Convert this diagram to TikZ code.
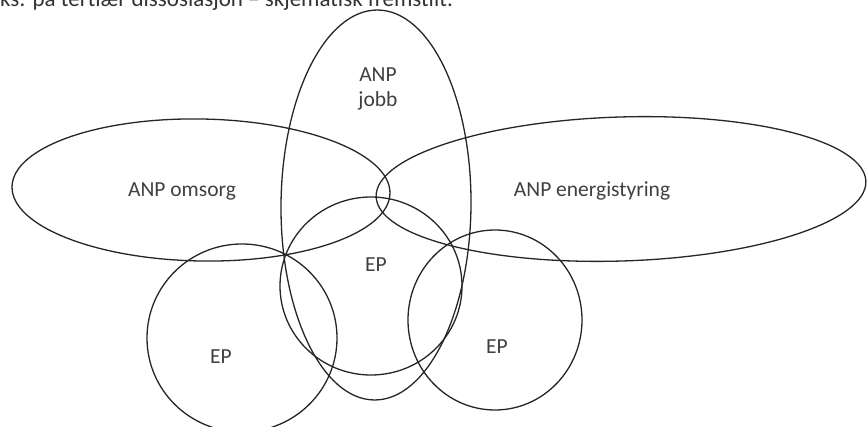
\documentclass[tikz,border=0pt]{standalone}
\usepackage{fontspec}
\setmainfont{Carlito}
\begin{document}
\begin{tikzpicture}[x=1pt,y=-1pt,
  shp/.style={draw=black!85,line width=1.3pt},
  lbl/.style={font=\fontsize{21.5}{24}\selectfont,text=black!75,inner sep=0pt,anchor=base}]
\useasboundingbox (0,0) rectangle (867,427);
\clip (0,0) rectangle (867,427);
\fill[white] (0,0) rectangle (867,427);
\node[anchor=base west,inner sep=0pt,text=black!80,font=\fontsize{23}{26}\selectfont] (title) at (0,6.5) {ks: på tertiær dissosiasjon – skjematisk fremstilt.};
% ellipses
\draw[shp] (376,205) ellipse [x radius=95, y radius=195, rotate=-0.5];
\draw[shp] (201,190) ellipse [x radius=189, y radius=71, rotate=-1];
\draw[shp] (621,189) ellipse [x radius=245, y radius=72, rotate=1.8];
% circles
\draw[shp] (371,286) ellipse [x radius=91, y radius=89];
\draw[shp] (242,338) ellipse [x radius=95, y radius=94];
\draw[shp] (495,320) ellipse [x radius=87, y radius=90];
% labels
\node[lbl] (jobb1) at (378,82) {ANP};
\node[lbl] (jobb2) at (378,107) {jobb};
\node[lbl] (omsorg) at (182,197) {ANP omsorg};
\node[lbl] (energi) at (592,197) {ANP energistyring};
\node[lbl] (ep1) at (376,272) {EP};
\node[lbl] (ep2) at (221,363) {EP};
\node[lbl] (ep3) at (497,353) {EP};
\end{tikzpicture}
\end{document}
